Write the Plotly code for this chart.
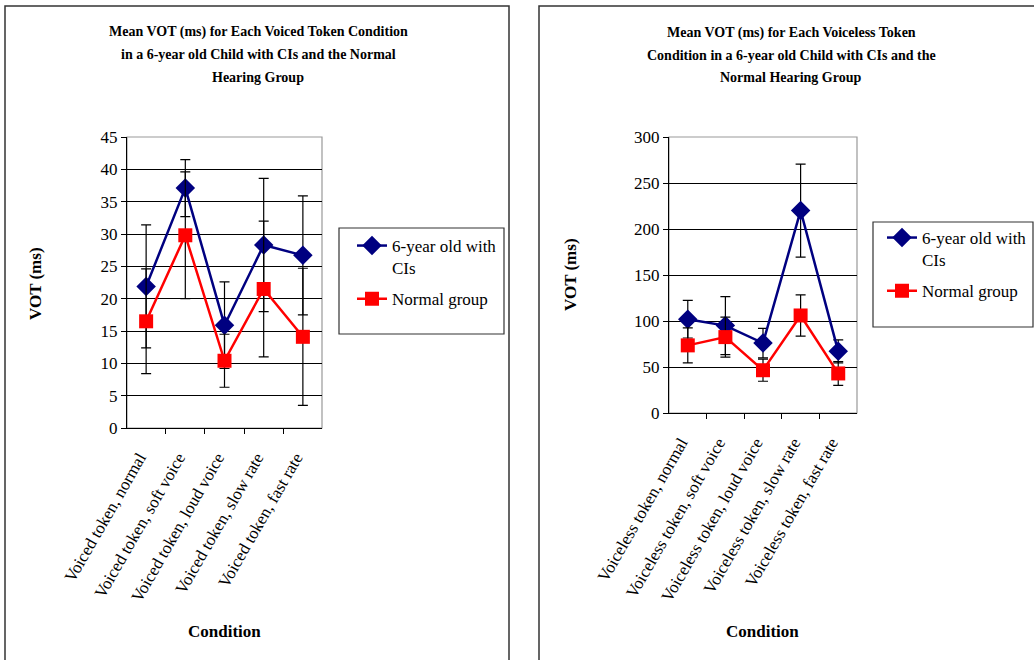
import plotly.graph_objects as go

W, H = 1034, 660

voiced_cats = ["Voiced token, normal", "Voiced token, soft voice", "Voiced token, loud voice",
               "Voiced token, slow rate", "Voiced token, fast rate"]
voiceless_cats = ["Voiceless token, normal", "Voiceless token, soft voice", "Voiceless token, loud voice",
                  "Voiceless token, slow rate", "Voiceless token, fast rate"]

voiced_ci = [21.9, 37.1, 15.9, 28.3, 26.7]
voiced_ci_err = [9.5, 4.4, 6.7, 10.3, 9.2]
voiced_nh = [16.5, 29.8, 10.4, 21.5, 14.1]
voiced_nh_err = [8.1, 9.8, 4.1, 10.5, 10.6]

voiceless_ci = [102, 95, 76, 220, 67]
voiceless_ci_err = [20.5, 31.5, 16, 50.5, 12.5]
voiceless_nh = [73.5, 82.5, 46.5, 106, 43]
voiceless_nh_err = [19, 21.7, 12, 22.5, 13]

series_names = ["6-year old with<br>CIs", "Normal group"]
left_yticks = [0, 5, 10, 15, 20, 25, 30, 35, 40, 45]
right_yticks = [0, 50, 100, 150, 200, 250, 300]

left_title = ["Mean VOT (ms) for Each Voiced Token Condition",
              "in a 6-year old Child with CIs and the Normal",
              "Hearing Group"]
right_title = ["Mean VOT (ms) for Each Voiceless Token",
               "Condition in a 6-year old Child with CIs and the",
               "Normal Hearing Group"]

FONT = "Liberation Serif"
NAVY = "#000080"
RED = "#FF0000"


def px_x(p):
    return p / W


def px_y(p):
    return 1 - p / H


fig = go.Figure()


def add_series(cats, vals, errs, name, color, symbol, size, xa, ya, legend, group):
    fig.add_trace(go.Scatter(
        x=cats, y=vals, name=name, mode="lines+markers",
        line=dict(color=color, width=2.5),
        marker=dict(symbol=symbol, size=size, color=color),
        error_y=dict(type="data", array=errs, visible=True, color="black", thickness=1.2, width=5),
        xaxis=xa, yaxis=ya, legend=legend, legendgroup=group, showlegend=True,
    ))


add_series(voiced_cats, voiced_ci, voiced_ci_err, series_names[0], NAVY, "diamond", 15, "x", "y", "legend", "a")
add_series(voiced_cats, voiced_nh, voiced_nh_err, series_names[1], RED, "square", 14, "x", "y", "legend", "b")
add_series(voiceless_cats, voiceless_ci, voiceless_ci_err, series_names[0], NAVY, "diamond", 15, "x2", "y2", "legend2", "c")
add_series(voiceless_cats, voiceless_nh, voiceless_nh_err, series_names[1], RED, "square", 14, "x2", "y2", "legend2", "d")

axis_common = dict(
    showline=True, linecolor="black", linewidth=1.2,
    ticks="outside", ticklen=5, tickcolor="black", tickwidth=1,
    tickfont=dict(family=FONT, size=17, color="black"),
    zeroline=False, automargin=False,
)
xaxis_extra = dict(type="category", tickson="boundaries", tickangle=-60, showgrid=False,
                   ticklabelstandoff=12, ticklabelshift=-7)

lx0, lx1, ly0, ly1 = 127, 322, 137, 428
rx0, rx1, ry0, ry1 = 669, 857, 137, 413

legend_common = dict(xanchor="left", yanchor="top", bgcolor="rgba(0,0,0,0)", borderwidth=0,
                     valign="top", font=dict(family=FONT, size=17, color="black"),
                     tracegroupgap=6, itemwidth=30)

fig.update_layout(
    width=W, height=H,
    margin=dict(l=0, r=0, t=0, b=0, autoexpand=False),
    paper_bgcolor="white", plot_bgcolor="white",
    font=dict(family=FONT, size=17, color="black"),
    xaxis=dict(domain=[px_x(lx0), px_x(lx1)], anchor="y", **xaxis_extra, **axis_common),
    yaxis=dict(domain=[px_y(ly1), px_y(ly0)], anchor="x", range=[0, 45], tickvals=left_yticks,
               showgrid=True, gridcolor="black", gridwidth=1, **axis_common),
    xaxis2=dict(domain=[px_x(rx0), px_x(rx1)], anchor="y2", **xaxis_extra, **axis_common),
    yaxis2=dict(domain=[px_y(ry1), px_y(ry0)], anchor="x2", range=[0, 300], tickvals=right_yticks,
                showgrid=True, gridcolor="black", gridwidth=1, **axis_common),
    legend=dict(x=px_x(352), y=px_y(228), **legend_common),
    legend2=dict(x=px_x(882), y=px_y(220), **legend_common),
)

shapes = []
shapes.append(dict(type="rect", xref="paper", yref="paper", x0=px_x(5), x1=px_x(509), y0=px_y(700), y1=px_y(6),
                   line=dict(color="#333333", width=1.5), layer="below"))
shapes.append(dict(type="rect", xref="paper", yref="paper", x0=px_x(539), x1=px_x(1060), y0=px_y(700), y1=px_y(6),
                   line=dict(color="#333333", width=1.5), layer="below"))
shapes.append(dict(type="rect", xref="paper", yref="paper", x0=px_x(lx0), x1=px_x(lx1), y0=px_y(ly1), y1=px_y(ly0),
                   line=dict(color="#999999", width=1.2), layer="below"))
shapes.append(dict(type="rect", xref="paper", yref="paper", x0=px_x(rx0), x1=px_x(rx1), y0=px_y(ry1), y1=px_y(ry0),
                   line=dict(color="#999999", width=1.2), layer="below"))
shapes.append(dict(type="rect", xref="paper", yref="paper", x0=px_x(339), x1=px_x(504), y0=px_y(334), y1=px_y(228),
                   line=dict(color="#333333", width=1.2), layer="below"))
shapes.append(dict(type="rect", xref="paper", yref="paper", x0=px_x(873), x1=px_x(1033), y0=px_y(327), y1=px_y(222),
                   line=dict(color="#333333", width=1.2), layer="below"))
fig.update_layout(shapes=shapes)

annotations = []
for i, line in enumerate(left_title):
    annotations.append(dict(text="<b>" + line + "</b>", x=px_x(258), y=px_y(32 + 22.5 * i),
                            xanchor="center", yanchor="middle", font=dict(size=14)))
for i, line in enumerate(right_title):
    annotations.append(dict(text="<b>" + line + "</b>", x=px_x(791), y=px_y(33 + 22.5 * i),
                            xanchor="center", yanchor="middle", font=dict(size=14)))
annotations += [
    dict(text="<b>VOT (ms)</b>", x=px_x(35), y=px_y(284), textangle=-90, xanchor="center", yanchor="middle",
         font=dict(size=17)),
    dict(text="<b>VOT (ms)</b>", x=px_x(570), y=px_y(275), textangle=-90, xanchor="center", yanchor="middle",
         font=dict(size=17)),
    dict(text="<b>Condition</b>", x=px_x(224), y=px_y(631), xanchor="center", yanchor="middle",
         font=dict(size=17)),
    dict(text="<b>Condition</b>", x=px_x(762), y=px_y(631), xanchor="center", yanchor="middle",
         font=dict(size=17)),
]
for a in annotations:
    a["font"].update(family=FONT, color="black")
    a.update(xref="paper", yref="paper", showarrow=False)
fig.update_layout(annotations=annotations)

fig.write_html("out.html", config={"displayModeBar": False},
               post_script="document.body.style.margin='0px';")
